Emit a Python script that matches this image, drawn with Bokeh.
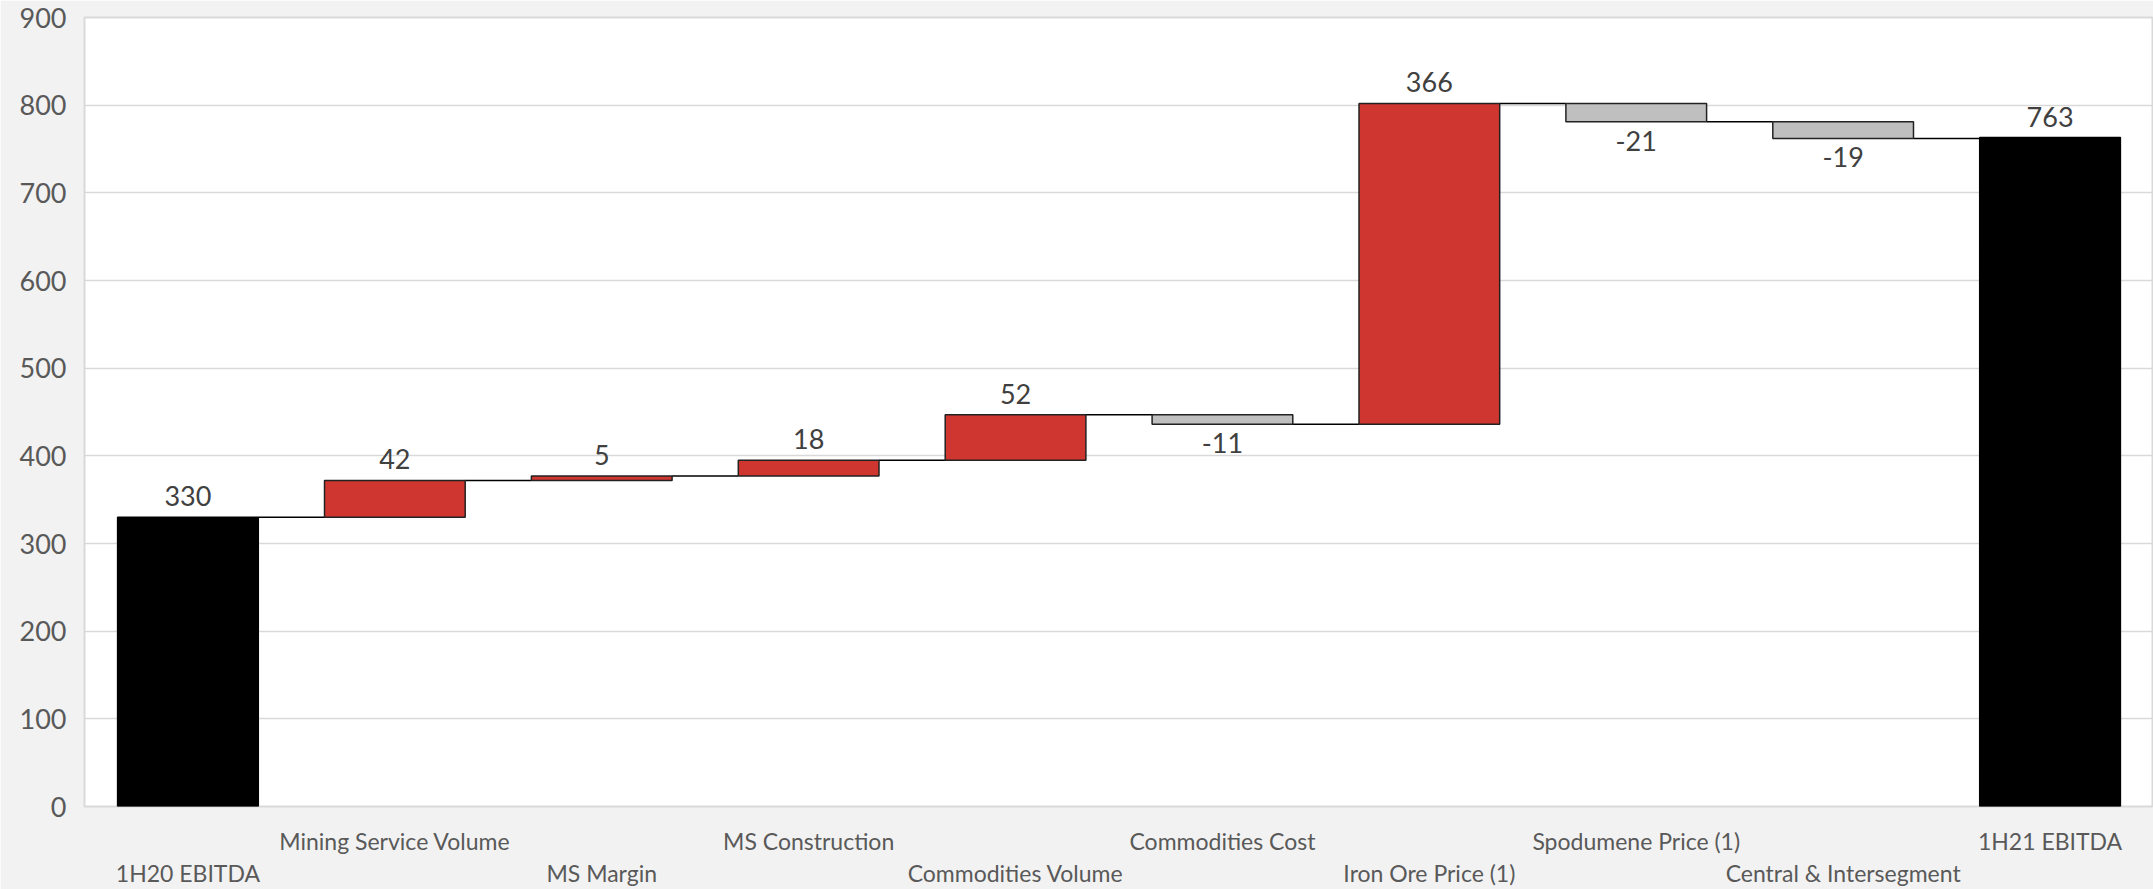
from bokeh.plotting import figure
from bokeh.models import ColumnDataSource, LinearAxis, FixedTicker, Range1d
from bokeh.core.properties import value
from bokeh.embed import file_html
from bokeh.resources import INLINE
import numpy as np

# ---- data ----
categories = ["1H20 EBITDA", "Mining Service Volume", "MS Margin", "MS Construction",
              "Commodities Volume", "Commodities Cost", "Iron Ore Price (1)",
              "Spodumene Price (1)", "Central & Intersegment", "1H21 EBITDA"]
values = [330, 42, 5, 18, 52, -11, 366, -21, -19, 763]
kinds = ["total", "step", "step", "step", "step", "step", "step", "step", "step", "total"]
y_ticks = [0, 100, 200, 300, 400, 500, 600, 700, 800, 900]

COL_TOTAL = "#000000"
COL_UP = "#CF3630"
COL_DOWN = "#BFBFBF"
FONT = "Lato"

# ---- waterfall geometry from data ----
n = len(categories)
xs = list(range(n))
bottoms, tops, colors, lab_y, lab_off = [], [], [], [], []
running = 0
for v, k in zip(values, kinds):
    if k == "total":
        b, t = 0, v
        running = v
        colors.append(COL_TOTAL)
    else:
        b, t = (running, running + v) if v >= 0 else (running + v, running)
        running += v
        colors.append(COL_UP if v >= 0 else COL_DOWN)
    bottoms.append(b)
    tops.append(t)
    if v >= 0:
        lab_y.append(t)
        lab_off.append(-21)
    else:
        lab_y.append(b)
        lab_off.append(19)

levels = []
run = 0
for v, k in zip(values, kinds):
    run = v if k == "total" else run + v
    levels.append(run)

BW = 0.68
src = ColumnDataSource(dict(x=xs, bottom=bottoms, top=tops, color=colors,
                            line=["#000000" if k == "total" else "#222222" for k in kinds],
                            ly=lab_y, loff=lab_off, txt=[str(v) for v in values]))
conn = ColumnDataSource(dict(x0=[x + BW / 2 for x in xs[:-1]],
                             x1=[x + 1 - BW / 2 for x in xs[:-1]],
                             y=levels[:-1]))

p = figure(width=2153, height=889, output_backend="svg", toolbar_location=None,
           x_range=Range1d(-0.5, n - 0.5), y_range=Range1d(0, 900),
           min_border_left=84, min_border_right=0, min_border_top=17, min_border_bottom=83)

p.background_fill_color = "#FFFFFF"
p.border_fill_color = "#F2F2F2"
p.outline_line_color = "#D9D9D9"
p.outline_line_width = 2

p.segment(x0="x0", y0="y", x1="x1", y1="y", source=conn, line_color="#000000", line_width=1.5)
p.vbar(x="x", bottom="bottom", top="top", width=BW, source=src,
       fill_color="color", line_color="line", line_width=1.5)
p.text(x="x", y="ly", text="txt", y_offset="loff", source=src,
       text_align="center", text_baseline="alphabetic",
       text_font=value(FONT), text_font_size="27px", text_color="#404040")

# y axis
p.yaxis.ticker = FixedTicker(ticks=y_ticks)
p.yaxis.axis_line_color = None
p.yaxis.major_tick_line_color = None
p.yaxis.minor_tick_line_color = None
p.yaxis.major_tick_in = 0
p.yaxis.major_tick_out = 0
p.yaxis.major_label_standoff = 18
p.yaxis.major_label_text_font = FONT
p.yaxis.major_label_text_font_size = "27px"
p.yaxis.major_label_text_color = "#595959"

p.ygrid.ticker = FixedTicker(ticks=y_ticks)
p.ygrid.grid_line_color = "#D9D9D9"
p.ygrid.grid_line_width = 1.5
p.xgrid.grid_line_color = None

def style_x(ax, labels, standoff):
    ax.ticker = FixedTicker(ticks=xs)
    ax.major_label_overrides = {i: lab for i, lab in enumerate(labels)}
    ax.axis_line_color = None
    ax.major_tick_line_color = None
    ax.minor_tick_line_color = None
    ax.major_tick_in = 0
    ax.major_tick_out = 0
    ax.major_label_standoff = standoff
    ax.major_label_text_font = FONT
    ax.major_label_text_font_size = "23px"
    ax.major_label_text_color = "#595959"

upper = [c if i % 2 == 1 else "" for i, c in enumerate(categories)]
lower = [c if i % 2 == 0 else "" for i, c in enumerate(categories)]
style_x(p.xaxis[0], upper, 20)
ax2 = LinearAxis()
style_x(ax2, lower, 1)
p.add_layout(ax2, "below")

open("out.html", "w").write(file_html(p, INLINE))
